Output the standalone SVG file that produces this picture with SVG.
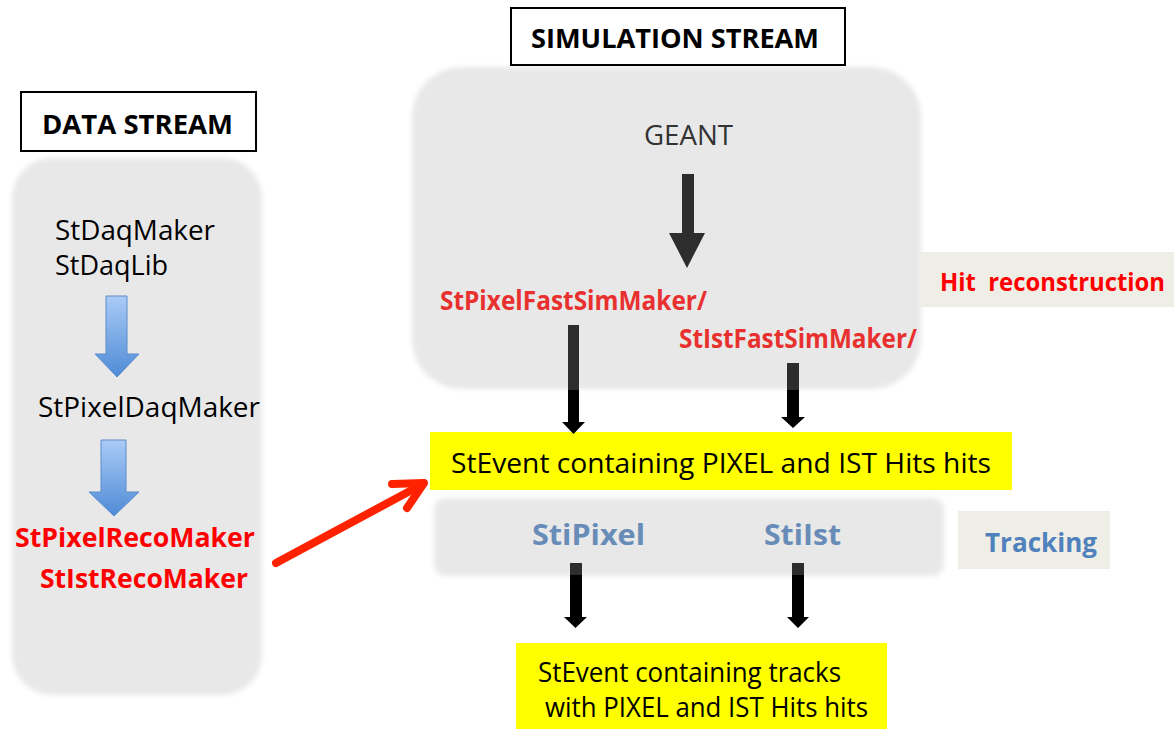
<svg xmlns="http://www.w3.org/2000/svg" width="1174" height="729" viewBox="0 0 1174 729">
<defs>
<style>
.t{font-family:"Open Sans","Liberation Sans",sans-serif;}
.b{font-weight:bold;}
.blk{fill:#000;}
.red{fill:#ff0000;}
.simred{fill:#e8302f;}
.hdr{fill:#fff;stroke:#000;stroke-width:2;}
.gbox{fill:#e8e8e8;filter:url(#soft);}
.beige{fill:#efeee6;}
.yel{fill:#ffff00;}
.blue{fill:url(#bg);stroke:#5a8ccc;stroke-width:1;}
</style>
<filter id="soft" x="-10%" y="-10%" width="120%" height="120%"><feGaussianBlur stdDeviation="2.5"/></filter>
<linearGradient id="bg" x1="0" y1="0" x2="0" y2="1"><stop offset="0" stop-color="#aacbf6"/><stop offset="1" stop-color="#4f8bd6"/></linearGradient>
<linearGradient id="gt1" gradientUnits="userSpaceOnUse" x1="0" y1="300" x2="0" y2="440"><stop offset="0.64" stop-color="#2d2d2d"/><stop offset="0.64" stop-color="#000"/></linearGradient>
<linearGradient id="gt2" gradientUnits="userSpaceOnUse" x1="0" y1="555" x2="0" y2="635"><stop offset="0.25" stop-color="#2d2d2d"/><stop offset="0.25" stop-color="#000"/></linearGradient>
</defs>
<rect width="1174" height="729" fill="#fff"/>

<g id="data-stream">
<rect class="gbox" x="12" y="158" width="250" height="537" rx="40"/>
<text class="t blk" x="55" y="240" font-size="28" textLength="160" lengthAdjust="spacingAndGlyphs">StDaqMaker</text>
<text class="t blk" x="55" y="275" font-size="28" textLength="113" lengthAdjust="spacingAndGlyphs">StDaqLib</text>
<text class="t blk" x="38" y="417" font-size="28" textLength="222" lengthAdjust="spacingAndGlyphs">StPixelDaqMaker</text>
<text class="t b red" x="15" y="547" font-size="27" textLength="240" lengthAdjust="spacingAndGlyphs">StPixelRecoMaker</text>
<text class="t b red" x="40" y="588" font-size="27" textLength="208" lengthAdjust="spacingAndGlyphs">StIstRecoMaker</text>
</g>

<g id="sim-stream">
<rect class="gbox" x="412" y="67" width="509" height="322" rx="50"/>
<text class="t" x="644" y="145" font-size="27" fill="#333" textLength="89" lengthAdjust="spacingAndGlyphs">GEANT</text>
<text class="t b simred" x="440" y="310" font-size="26" textLength="267" lengthAdjust="spacingAndGlyphs">StPixelFastSimMaker/</text>
<text class="t b simred" x="679" y="348" font-size="26" textLength="238" lengthAdjust="spacingAndGlyphs">StIstFastSimMaker/</text>
</g>

<g id="tracking-box">
<rect class="gbox" x="434" y="498" width="510" height="78" rx="12"/>
<text class="t b" x="532" y="545" font-size="29" fill="#678cb8" textLength="113" lengthAdjust="spacingAndGlyphs">StiPixel</text>
<text class="t b" x="764" y="545" font-size="29" fill="#678cb8" textLength="77" lengthAdjust="spacingAndGlyphs">StiIst</text>
</g>

<g id="hits-event">
<rect class="yel" x="430" y="432" width="582" height="58"/>
<text class="t blk" x="451" y="473" font-size="28" textLength="540" lengthAdjust="spacingAndGlyphs">StEvent containing PIXEL and IST Hits hits</text>
</g>

<g id="tracks-event">
<rect class="yel" x="516" y="643" width="371" height="86"/>
<text class="t blk" x="538" y="682" font-size="28" textLength="303" lengthAdjust="spacingAndGlyphs">StEvent containing tracks</text>
<text class="t blk" x="545" y="717" font-size="28" textLength="323" lengthAdjust="spacingAndGlyphs">with PIXEL and IST Hits hits</text>
</g>

<g id="connectors">
<polygon class="blue" points="106,296 127,296 127,354 139,354 117,377 95,354 106,354"/>
<polygon class="blue" points="101,440 126,440 126,492 139,492 114,516 89,492 101,492"/>
<polygon fill="#2d2d2d" points="682,174 694,174 694,233 705,233 687,268 669,233 682,233"/>
<polygon fill="url(#gt1)" points="568,325 579,325 579,422 585,422 573.5,434 562,422 568,422"/>
<polygon fill="url(#gt1)" points="787,363 799,363 799,417 805,417 793,428 781,417 787,417"/>
<polygon fill="url(#gt2)" points="570,563 582,563 582,617 587,617 575.5,628 564,617 570,617"/>
<polygon fill="url(#gt2)" points="792,563 804,563 804,617 809,617 798,628 787,617 792,617"/>
<g stroke="#ff2200" stroke-width="8" stroke-linecap="round" stroke-linejoin="round" fill="none">
<line x1="276" y1="563" x2="423" y2="484"/>
<polyline points="392,484 424,483 407,508"/>
</g>
</g>

<g id="hit-reco-label">
<rect class="beige" x="920" y="252" width="254" height="55"/>
<text class="t b red" x="940" y="291" font-size="25" style="white-space:pre" textLength="225" lengthAdjust="spacingAndGlyphs">Hit  reconstruction</text>
</g>

<g id="tracking-label">
<rect class="beige" x="958" y="511" width="152" height="58"/>
<text class="t b" x="985" y="552" font-size="27" fill="#4f81bd" textLength="112" lengthAdjust="spacingAndGlyphs">Tracking</text>
</g>

<g id="data-header">
<rect class="hdr" x="21" y="92" width="235" height="59"/>
<text class="t b blk" x="42" y="134" font-size="26" textLength="191" lengthAdjust="spacingAndGlyphs">DATA STREAM</text>
</g>

<g id="sim-header">
<rect class="hdr" x="511" y="8" width="334" height="57"/>
<text class="t b blk" x="531" y="48" font-size="27" textLength="288" lengthAdjust="spacingAndGlyphs">SIMULATION STREAM</text>
</g>
</svg>
